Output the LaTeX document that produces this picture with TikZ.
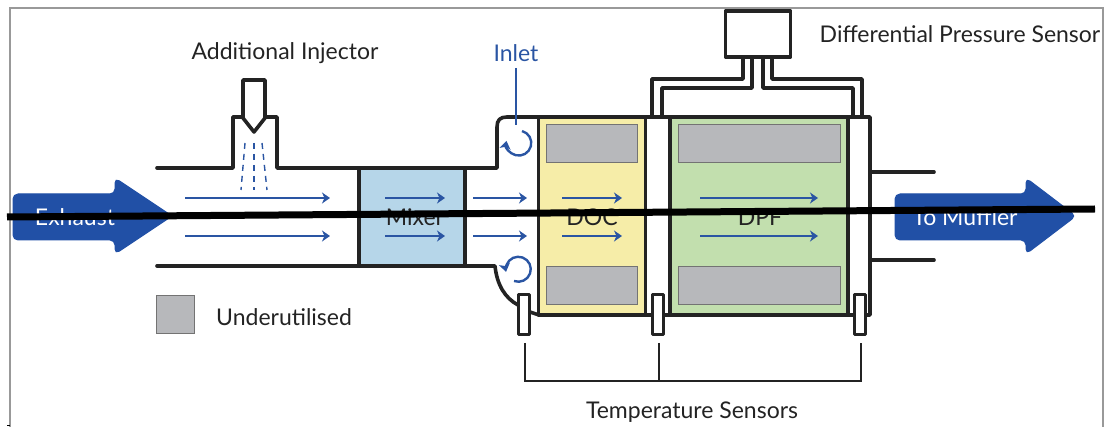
\documentclass[tikz,border=0pt]{standalone}
\usepackage{fontspec}
\setmainfont{Lato}
\usepackage{tikz}
\usetikzlibrary{arrows.meta,positioning,calc}
\definecolor{ink}{HTML}{232323}
\definecolor{flow}{HTML}{2A55A3}
\definecolor{deep}{HTML}{2150A6}
\definecolor{mixblue}{HTML}{B6D6E9}
\definecolor{docyellow}{HTML}{F6EDA8}
\definecolor{dpfgreen}{HTML}{C2DFAE}
\definecolor{unused}{HTML}{B7B8BB}
\tikzset{wall/.style={draw=ink,line width=3.6pt,line join=round,line cap=round},brick/.style={wall,inner sep=0pt,outer sep=0pt},unusedbox/.style={draw=black!55,line width=1pt,fill=unused,inner sep=0pt,outer sep=0pt},probe/.style={brick,fill=white,line width=3pt,minimum width=11pt,minimum height=40pt},flowarr/.style={-{Stealth[length=8pt,width=11pt,inset=2.5pt]},draw=flow,line width=2.3pt},curl/.style={-{Stealth[length=8pt,width=11pt,inset=2pt]},draw=flow,line width=2.4pt},bigarr/.style={fill=deep,draw=deep,line width=1pt,rounded corners=5pt},lab/.style={font=\fontsize{23}{26}\selectfont,text=ink,inner sep=0pt},inlab/.style={font=\fontsize{23}{26}\selectfont,inner sep=0pt,anchor=base},lead/.style={draw=ink,line width=1.8pt}}
\begin{document}
\begin{tikzpicture}[x=1pt,y=-1pt]
\useasboundingbox (0,0) rectangle (1108,427);
\draw[black!40,line width=1.2pt] (10,427) -- (10,8) -- (1103,8) -- (1103,427);
\draw[black,line width=1pt] (7,425.5) -- (10,425.5);
% big arrows
\path[bigarr] (13,194) -- (115,194) -- (115,178) -- (172,216) -- (115,254) -- (115,240) -- (13,240) -- cycle;
\path[bigarr] (895,194) -- (1026,194) -- (1026,178) -- (1076,216) -- (1026,254) -- (1026,240) -- (895,240) -- cycle;
% catalyst blocks
\node[brick,fill=mixblue,minimum width=106pt,minimum height=98pt] (mixer) at (412,217) {};
\node[brick,fill=docyellow,minimum width=107pt,minimum height=198pt] (doc) at (592,216) {};
\node[brick,fill=dpfgreen,minimum width=178pt,minimum height=198pt] (dpf) at (759,216) {};
\node[unusedbox,minimum width=91pt,minimum height=38pt] (docup) at (592,144) {};
\node[unusedbox,minimum width=91pt,minimum height=38pt] (doclow) at (592,286) {};
\node[unusedbox,minimum width=162pt,minimum height=38pt] (dpfup) at (759,144) {};
\node[unusedbox,minimum width=162pt,minimum height=38pt] (dpflow) at (759,286) {};
\node[unusedbox,minimum width=38pt,minimum height=38pt] (legend) at (175,315) {};
% pipe
\draw[wall] (157,168) -- (233,168) -- (233,117) -- (277,117) -- (277,168) -- (359,168);
\draw[wall] (465,168) -- (497,168) -- (497,127) .. controls (497,120) and (500,117) .. (507,117) -- (539,117);
\draw[wall] (157,266) -- (359,266);
\draw[wall] (465,266) -- (495,266) .. controls (497,285) and (505,298) .. (518,305);
\draw[wall] (530,312) -- (539,315);
\draw[wall] (646,117) -- (870,117) -- (870,315) -- (848,315);
\draw[wall] (646,315) -- (670,315);
\draw[wall] (870,172) -- (934,172);
\draw[wall] (870,260) -- (934,260);
% injector
\draw[wall,fill=white] (243,80) -- (265,80) -- (265,118) -- (254,132) -- (243,118) -- cycle;
\draw[flow,line width=1.4pt,dash pattern=on 6pt off 5pt] (245,143) -- (241,190);
\draw[flow,line width=1.4pt,dash pattern=on 6pt off 5pt] (254,143) -- (254,190);
\draw[flow,line width=1.4pt,dash pattern=on 6pt off 5pt] (262,143) -- (267,190);
% pressure sensor
\node[brick,fill=white,minimum width=65pt,minimum height=46pt] (psensor) at (758,34) {};
\draw[wall] (743,57) -- (743,79) -- (652,79) -- (652,117);
\draw[wall] (752,57) -- (752,88) -- (662,88) -- (662,117);
\draw[wall] (763,57) -- (763,88) -- (853,88) -- (853,117);
\draw[wall] (772,57) -- (772,79) -- (862,79) -- (862,117);
% temperature probes
\node[probe] (tempa) at (524,315) {};
\node[probe] (tempb) at (658,315) {};
\node[probe] (tempc) at (860,315) {};
\coordinate (leada) at (525,343);
\coordinate (leadb) at (659,343);
\coordinate (leadc) at (861,343);
\draw[lead] (leada) |- (leadc |- 0,381) -- (leadc);
\draw[lead] (leadb) -- (leadb |- 0,381);
% flow arrows
\foreach \ypos in {198,236} {
\draw[flowarr] (185,\ypos) -- (330,\ypos);
\draw[flowarr] (385,\ypos) -- (445,\ypos);
\draw[flowarr] (473,\ypos) -- (527,\ypos);
\draw[flowarr] (562,\ypos) -- (622,\ypos);
\draw[flowarr] (700,\ypos) -- (818,\ypos);
}
\draw[flow,line width=2pt] (516,68) -- (516,125);
\draw[curl] (522,131) arc[start angle=75,end angle=-190,radius=12.5pt];
\draw[curl] (514,281) arc[start angle=-110,end angle=192,radius=12.5pt];
% labels
\node[lab] (addlab) at (285,53) {Additional Injector};
\node[lab,text=flow] (inlet) at (516,53) {Inlet};
\node[lab] (dplab) at (960,34) {Differential Pressure Sensor};
\node[lab,anchor=west] (unlab) at (216,317) {Underutilised};
\node[lab] (templab) at (692,412) {Temperature Sensors};
\node[inlab,text=white] (exhlab) at (75,226) {Exhaust};
\node[inlab,text=ink] (mixlab) at (415,226) {Mixer};
\node[inlab,text=ink] (doclab) at (592,226) {DOC};
\node[inlab,text=ink] (dpflab) at (760,226) {DPF};
\node[inlab,text=white] (mufflab) at (965,226) {To Muffler};
% struck through
\draw[black,line width=7pt] (7,217) -- (1095,209);
\end{tikzpicture}
\end{document}
